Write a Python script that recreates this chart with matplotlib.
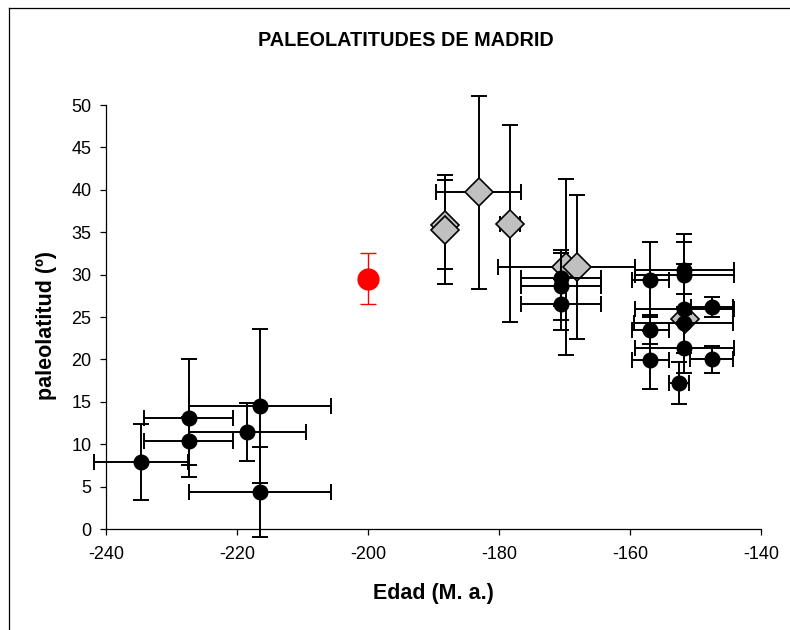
import matplotlib
matplotlib.use('Agg')
import matplotlib.pyplot as plt
import numpy as np
from matplotlib.lines import Line2D

plt.rcParams['font.family'] = ['Liberation Sans', 'DejaVu Sans']

title = "PALEOLATITUDES DE MADRID"
xlabel = "Edad (M. a.)"
ylabel = "paleolatitud (º)"
xticks = [-240, -220, -200, -180, -160, -140]
yticks = [0, 5, 10, 15, 20, 25, 30, 35, 40, 45, 50]

# black circles
circ_x = [-234.7, -227.4, -227.4, -218.4, -216.5, -216.5,
          -170.5, -170.5, -170.5,
          -156.9, -156.9, -156.9,
          -151.7, -151.7, -151.7, -151.8, -151.7, -152.5,
          -147.5, -147.5]
circ_y = [7.9, 10.4, 13.1, 11.4, 14.5, 4.4,
          29.6, 28.6, 26.5,
          29.4, 23.5, 19.9,
          30.5, 30.0, 26.0, 24.25, 21.4, 17.25,
          26.2, 20.0]
circ_xerr = [7.2, 6.8, 6.8, 8.9, 10.8, 10.8,
             6.1, 6.1, 6.1,
             2.8, 2.8, 2.8,
             7.6, 7.6, 7.6, 7.6, 7.6, 1.5,
             3.2, 3.3]
circ_yerr = [4.5, 2.8, 7.0, 3.4, 9.1, 5.3,
             3.3, 4.0, 3.0,
             4.4, 1.7, 3.4,
             4.3, 3.9, 5.3, 3.5, 3.0, 2.5,
             1.2, 1.6]

# grey diamonds
diam_x = [-188.2, -188.2, -183.1, -178.3, -169.7, -168.1, -151.6]
diam_y = [35.9, 35.3, 39.7, 36.0, 30.9, 30.9, 24.8]
diam_xerr = [0, 0, 6.5, 1.5, 10.45, 0, 0]
diam_yerr = [5.2, 6.4, 11.4, 11.6, 10.4, 8.5, 0]

# red point
red_x = [-200.0]
red_y = [29.5]
red_yerr = [3.0]

fig = plt.figure(figsize=(7.9, 6.3), dpi=100)
ax = fig.add_axes([106/790, 1-529/630, (761-106)/790, (529-105)/630])


def bars(x, y, xe, ye, color, lw, cap, z):
    x = np.asarray(x, float); y = np.asarray(y, float)
    xe = np.asarray(xe, float); ye = np.asarray(ye, float)
    conts = []
    m = xe > 0
    if m.any():
        conts.append(ax.errorbar(x[m], y[m], xerr=xe[m], fmt='none', ecolor=color,
                                 elinewidth=lw, capsize=cap, capthick=lw, zorder=z))
    m = ye > 0
    if m.any():
        conts.append(ax.errorbar(x[m], y[m], yerr=ye[m], fmt='none', ecolor=color,
                                 elinewidth=lw, capsize=cap, capthick=lw, zorder=z))
    for c in conts:
        for ch in c.get_children():
            ch.set_clip_on(False)


bars(diam_x, diam_y, diam_xerr, diam_yerr, 'black', 1.4, 5.5, 2)
ax.plot(diam_x, diam_y, linestyle='none', marker='D', markersize=14.5,
        markerfacecolor='#C0C0C0', markeredgecolor='black', markeredgewidth=1.2,
        zorder=3, clip_on=False)

bars(circ_x, circ_y, circ_xerr, circ_yerr, 'black', 1.4, 5.5, 4)
ax.plot(circ_x, circ_y, linestyle='none', marker='o', markersize=10.5,
        markerfacecolor='black', markeredgecolor='black', zorder=5, clip_on=False)

bars(red_x, red_y, [0], red_yerr, 'red', 1.0, 5.5, 6)
ax.plot(red_x, red_y, linestyle='none', marker='o', markersize=15,
        markerfacecolor='red', markeredgecolor='red', zorder=7, clip_on=False)

ax.set_xlim(-240, -140)
ax.set_ylim(0, 50)
ax.set_xticks(xticks)
ax.set_yticks(yticks)
ax.set_xticklabels([str(t) for t in xticks])
ax.set_yticklabels([str(t) for t in yticks])
ax.spines['top'].set_visible(False)
ax.spines['right'].set_visible(False)
for s in ('left', 'bottom'):
    ax.spines[s].set_linewidth(0.9)
ax.tick_params(direction='out', length=4.5, width=0.9, labelsize=13, pad=6)
ax.tick_params(axis='x', pad=8)

fig.text(405.5/790, 1-40/630, title, ha='center', va='center',
         fontsize=14.3, fontweight='bold')
fig.text(433/790, 1-593/630, xlabel, ha='center', va='center',
         fontsize=15.5, fontweight='bold')
fig.text(47/790, 1-325/630, ylabel, ha='center', va='center', rotation=90,
         fontsize=15.5, fontweight='bold')

fig.add_artist(Line2D([8.5/790, 8.5/790], [-0.01, 1-8/630], transform=fig.transFigure,
                      color='black', lw=0.9))
fig.add_artist(Line2D([8.5/790, 1.01], [1-8/630, 1-8/630], transform=fig.transFigure,
                      color='black', lw=0.9))

fig.savefig('out.png', dpi=100)
